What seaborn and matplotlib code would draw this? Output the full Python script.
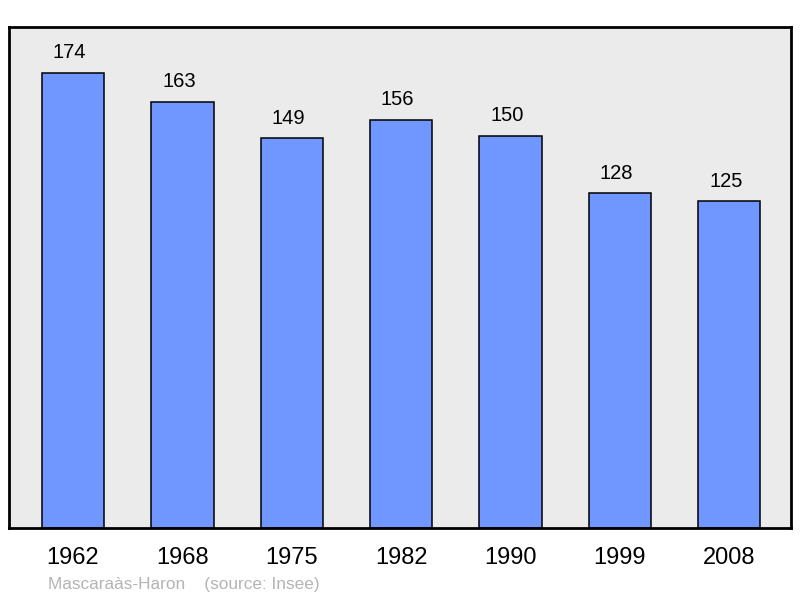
import pandas as pd
import matplotlib
matplotlib.use("Agg")
import matplotlib.pyplot as plt
import seaborn as sns

# ================= data =================
years = ['1962', '1968', '1975', '1982', '1990', '1999', '2008']
population = [174, 163, 149, 156, 150, 128, 125]
commune = 'Mascaraàs-Haron'
source = '(source: Insee)'

df = pd.DataFrame({'year': years, 'population': population})

sns.set_theme(style='white')
plt.rcParams['font.family'] = ['Liberation Sans', 'DejaVu Sans']

fig = plt.figure(figsize=(8, 5.98), dpi=100)
ax = fig.add_axes([9 / 800, 1 - 528 / 598, 782 / 800, 501 / 598])
ax.set_facecolor('#ebebeb')

sns.barplot(data=df, x='year', y='population', color='#7096ff', saturation=1,
            width=0.57, edgecolor='black', linewidth=1.1, ax=ax)

# value labels above bars (slightly left of centre, as in the original)
for i, v in enumerate(population):
    ax.annotate(str(v), (i, v), xytext=(-2.5, 14.5), textcoords='offset points',
                ha='center', va='center', fontsize=14.5, color='black')

ax.set_xlim(-0.585, 6.565)
ax.set_ylim(0, 191.6)
ax.set_yticks([])
ax.set_xlabel('')
ax.set_ylabel('')
ax.tick_params(axis='x', length=0, pad=14, labelsize=17, colors='black')
for s in ax.spines.values():
    s.set_color('black')
    s.set_linewidth(2)

fig.text(48 / 800, 1 - 584 / 598, commune + '    ' + source, fontsize=12.4,
         color='#b4b4b4', ha='left', va='center')

fig.savefig('out.png', dpi=100)
